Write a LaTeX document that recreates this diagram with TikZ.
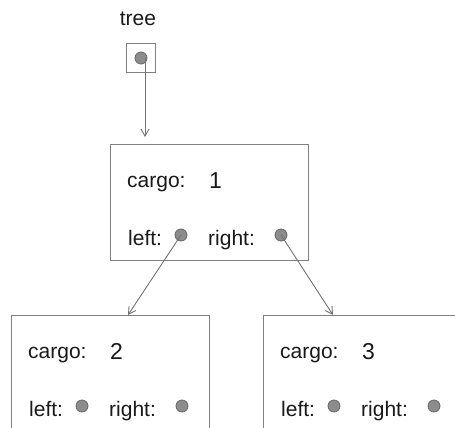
\documentclass[tikz,border=0pt]{standalone}
\usepackage{fontspec}
\setmainfont{Liberation Sans}
\usetikzlibrary{arrows.meta}
\tikzset{
  frame/.style={draw=black!50, line width=1pt, inner sep=0pt},
  lbl/.style={anchor=base west, inner sep=0pt, text=black!90,
    font=\fontsize{21}{25}\selectfont},
  val/.style={anchor=base west, inner sep=0pt, text=black!90,
    font=\fontsize{23}{27}\selectfont},
  ref/.style={circle, draw=black!60, fill=black!45, line width=0.8pt,
    minimum size=12pt, inner sep=0pt},
  ptr/.style={draw=black!55, line width=0.9pt,
    -{Straight Barb[length=7pt,width=8pt]}}
}
\begin{document}
\begin{tikzpicture}[x=1pt,y=-1pt]
  \useasboundingbox (0,0) rectangle (455,428);
  \clip (0,0) rectangle (455,428);
  % variable tree
  \node[lbl, anchor=base] (tname) at (138,26) {tree};
  \node[frame, minimum size=29pt] (tbox) at (141,58) {};
  \node[ref] (tdot) at (141,58) {};
  \coordinate (ttip) at (145,137);
  % the three nodes
  \foreach \n/\x/\y/\h/\v in {a/110/144/116/1, b/11/315/200/2, c/263/315/200/3} {
    \node[frame, anchor=north west, minimum width=198pt,
      minimum height=\h pt] (\n) at (\x,\y) {};
    \node[lbl] (\n-cargo) at (\x+17,\y+43) {cargo:};
    \node[val] (\n-val) at (\x+99,\y+44) {\v};
    \node[lbl] (\n-left) at (\x+18,\y+101) {left:};
    \node[ref] (\n-l) at (\x+71,\y+91) {};
    \node[lbl] (\n-right) at (\x+98,\y+101) {right:};
    \node[ref] (\n-r) at (\x+171,\y+91) {};
  }
  \draw[ptr] (tdot -| ttip) -- (ttip);
  \draw[ptr] (a-l.center) -- ([xshift=117pt]b.north west);
  \draw[ptr] (a-r.center) -- ([xshift=70pt]c.north west);
\end{tikzpicture}
\end{document}
